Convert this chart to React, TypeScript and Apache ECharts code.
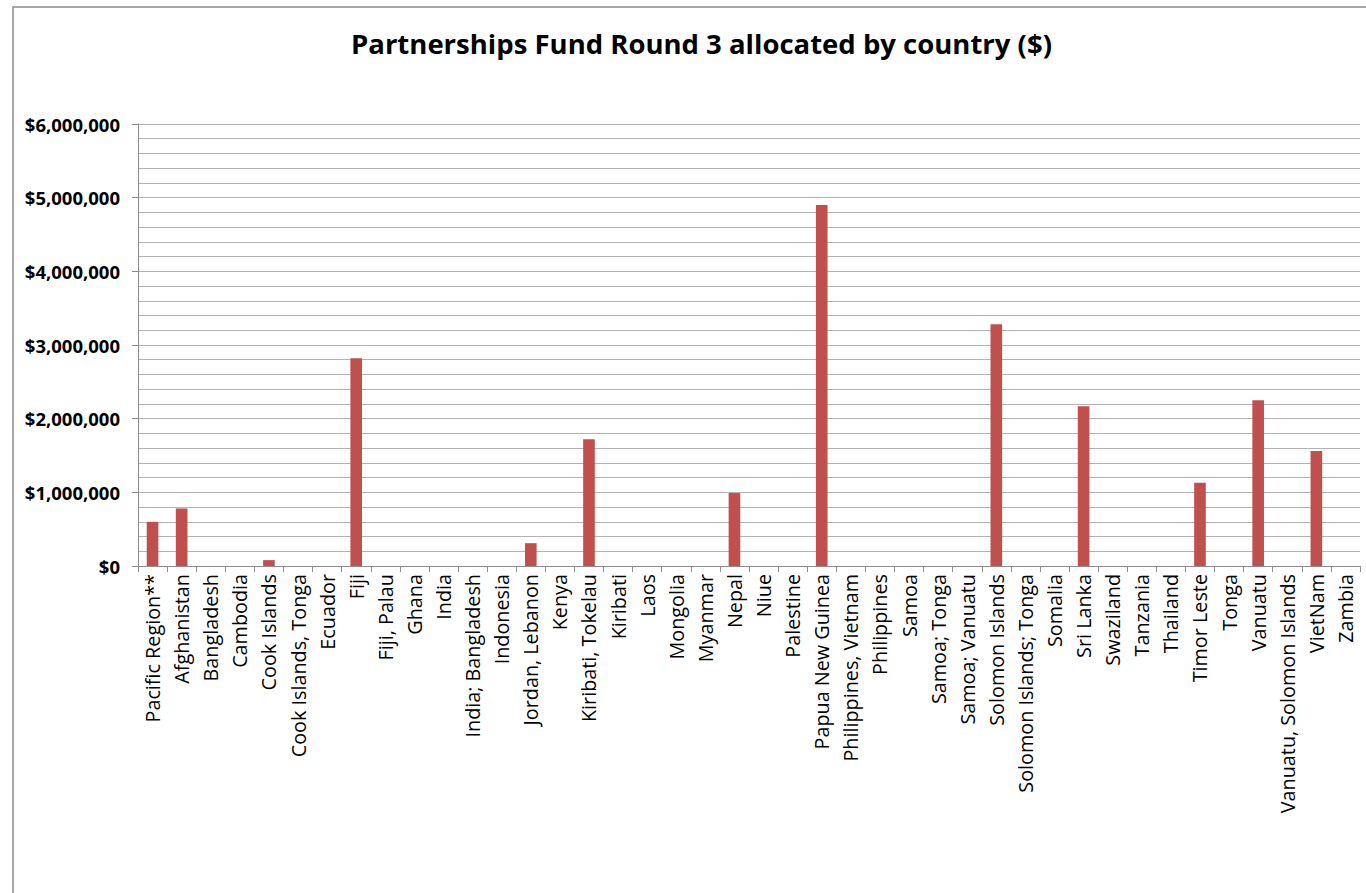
import React, { useEffect, useRef } from "react";
import * as echarts from "echarts";

const categories = [
  "Pacific Region**", "Afghanistan", "Bangladesh", "Cambodia", "Cook Islands",
  "Cook Islands, Tonga", "Ecuador", "Fiji", "Fiji, Palau", "Ghana", "India",
  "India; Bangladesh", "Indonesia", "Jordan, Lebanon", "Kenya", "Kiribati, Tokelau",
  "Kiribati", "Laos", "Mongolia", "Myanmar", "Nepal", "Niue", "Palestine",
  "Papua New Guinea", "Philippines, Vietnam", "Philippines", "Samoa", "Samoa; Tonga",
  "Samoa; Vanuatu", "Solomon Islands", "Solomon Islands; Tonga", "Somalia",
  "Sri Lanka", "Swaziland", "Tanzania", "Thailand", "Timor Leste", "Tonga",
  "Vanuatu", "Vanuatu, Solomon Islands", "VietNam", "Zambia",
];

const allocated = [
  600000, 780000, 0, 0, 80000,
  0, 0, 2820000, 0, 0, 0,
  0, 0, 310000, 0, 1720000,
  0, 0, 0, 0, 990000, 0, 0,
  4900000, 0, 0, 0, 0,
  0, 3280000, 0, 0,
  2170000, 0, 0, 0, 1130000, 0,
  2250000, 0, 1560000, 0,
];

const yTicks = [0, 1000000, 2000000, 3000000, 4000000, 5000000, 6000000];

const fmt = (v: number) => "$" + v.toLocaleString("en-US");

export default function App() {
  const ref = useRef<HTMLDivElement>(null);
  useEffect(() => {
    if (!ref.current) return;
    const chart = echarts.init(ref.current, null, { renderer: "svg" });
    chart.setOption({
      animation: false,
      backgroundColor: "#ffffff",
      textStyle: { fontFamily: "Open Sans" },
      title: {
        text: "Partnerships Fund Round 3 allocated by country ($)",
        left: 346,
        top: 24,
        textStyle: { fontFamily: "Open Sans", fontSize: 27.5, fontWeight: "bold", color: "#000" },
      },
      graphic: [
        {
          type: "rect",
          shape: { x: 13, y: 7, width: 1400, height: 1000 },
          style: { fill: "none", stroke: "#8c8c8c", lineWidth: 1.5 },
          silent: true,
        },
      ],
      grid: { left: 138, right: 6, top: 124, bottom: 327, containLabel: false },
      xAxis: {
        type: "category",
        data: categories,
        boundaryGap: true,
        axisLine: { show: true, lineStyle: { color: "#8c8c8c", width: 1 } },
        axisTick: { show: true, length: 6, alignWithLabel: false, interval: 0, lineStyle: { color: "#8c8c8c" } },
        axisLabel: {
          interval: 0,
          rotate: 90,
          margin: 8,
          fontFamily: "Open Sans",
          fontSize: 19.8,
          color: "#000",
        },
      },
      yAxis: {
        type: "value",
        min: yTicks[0],
        max: yTicks[yTicks.length - 1],
        interval: 1000000,
        axisLine: { show: true, lineStyle: { color: "#8c8c8c", width: 1 } },
        axisTick: { show: true, length: 6, lineStyle: { color: "#8c8c8c" } },
        axisLabel: {
          margin: 18,
          fontFamily: "Open Sans",
          fontSize: 18.5,
          fontWeight: "bold",
          color: "#000",
          formatter: (v: number) => fmt(v),
        },
        splitLine: { show: true, lineStyle: { color: "#b3b3b3", width: 1 } },
        minorTick: { show: false, splitNumber: 5 },
        minorSplitLine: { show: true, lineStyle: { color: "#b3b3b3", width: 1 } },
      },
      series: [
        {
          type: "bar",
          data: allocated,
          barWidth: "40%",
          itemStyle: { color: "#C0504D" },
        },
      ],
    });
    return () => chart.dispose();
  }, []);
  return (
    <div
      ref={ref}
      style={{ position: "absolute", left: 0, top: 0, width: 1366, height: 893 }}
    />
  );
}
